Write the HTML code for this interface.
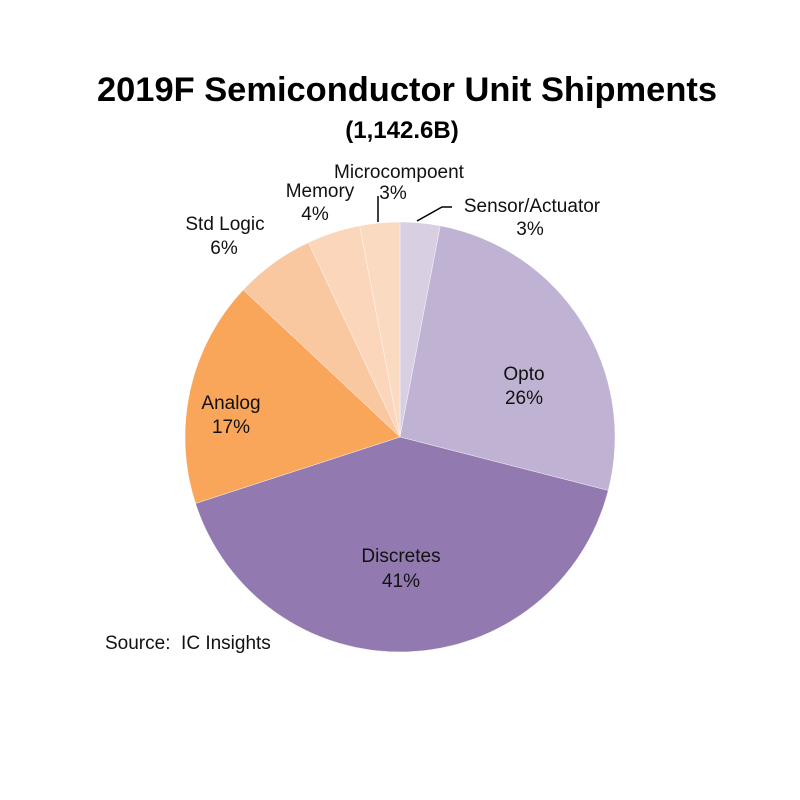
<!DOCTYPE html>
<html><head><meta charset="utf-8"><style>
html,body{margin:0;padding:0;background:#fff;}
svg{display:block;font-family:"Liberation Sans",Calibri,sans-serif;}
</style></head><body>
<svg id="s" width="800" height="800" viewBox="0 0 800 800">
<text x="407" y="101" text-anchor="middle" font-size="34" font-weight="bold" fill="#000" textLength="620" lengthAdjust="spacingAndGlyphs">2019F Semiconductor Unit Shipments</text>
<text x="402" y="138" text-anchor="middle" font-size="24" font-weight="bold" fill="#000">(1,142.6B)</text>
<g id="pie"></g>
<g font-size="19" fill="#111" text-anchor="middle">
<text x="399" y="178">Microcompoent</text><text x="393" y="199">3%</text>
<text x="320" y="197">Memory</text><text x="315" y="220">4%</text>
<text x="225" y="230">Std Logic</text><text x="224" y="254">6%</text>
<text x="532" y="212">Sensor/Actuator</text><text x="530" y="235">3%</text>
<text x="524" y="380">Opto</text><text x="524" y="404">26%</text>
<text x="231" y="409">Analog</text><text x="231" y="433">17%</text>
<text x="401" y="562">Discretes</text><text x="401" y="587">41%</text>
<text x="105" y="649" text-anchor="start" xml:space="preserve">Source:  IC Insights</text>
</g>
<g stroke="#000" stroke-width="1.5" fill="none">
<polyline points="378,196 378,222"/>
<polyline points="417,221 442,207 452,207"/>
</g>
</svg>
<script>
var cx=400,cy=437,r=215;
var d=[[3,"#d8cfe3"],[26,"#c0b2d3"],[41,"#927ab1"],[17,"#f9a65a"],[6,"#fac8a0"],[4,"#fbd6ba"],[3,"#fbdac2"]];
var a=0,g=document.getElementById("pie"),h="";
function pt(p){var t=p/100*2*Math.PI;return (cx+r*Math.sin(t)).toFixed(2)+","+(cy-r*Math.cos(t)).toFixed(2);}
d.forEach(function(s){var b=a+s[0];h+='<path d="M'+cx+','+cy+' L'+pt(a)+' A'+r+','+r+' 0 '+(s[0]>50?1:0)+',1 '+pt(b)+' Z" fill="'+s[1]+'" stroke="#fff" stroke-width="0.4"/>';a=b;});
g.innerHTML=h;
</script>
</body></html>
